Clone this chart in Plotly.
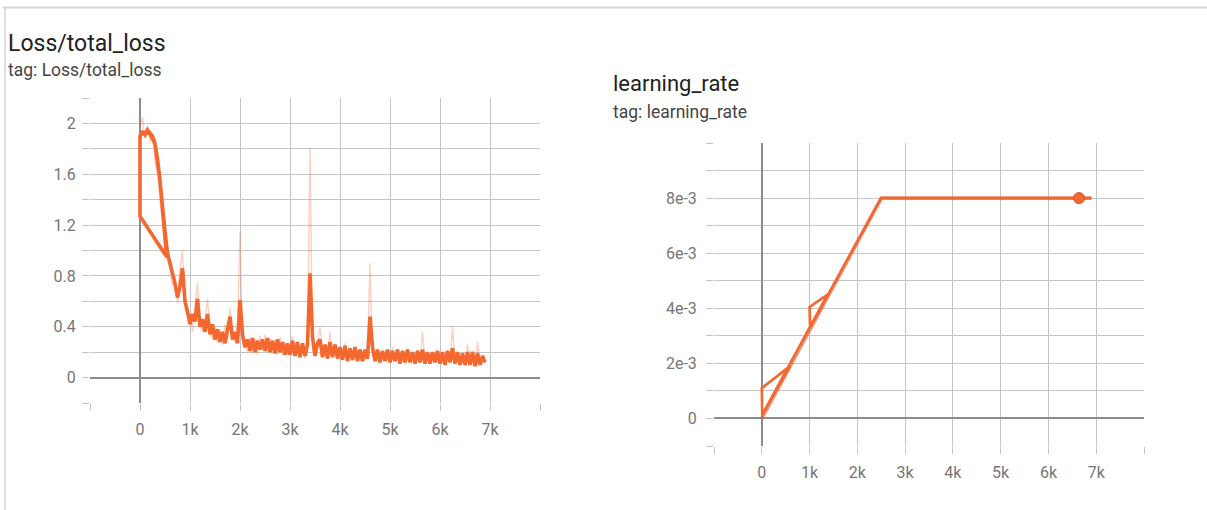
import plotly.graph_objects as go

# ---------------- data ----------------
loss_steps = list(range(0, 6901, 50))
loss_smoothed = [
    1.90, 1.93, 1.91, 1.95, 1.92, 1.90, 1.84, 1.72, 1.55, 1.32,
    1.15, 0.98, 0.90, 0.80, 0.74, 0.63, 0.72, 0.86, 0.60, 0.52,
    0.42, 0.50, 0.44, 0.62, 0.40, 0.46, 0.36, 0.50, 0.34, 0.42,
    0.30, 0.38, 0.28, 0.36, 0.27, 0.38, 0.48, 0.30, 0.36, 0.27,
    0.61, 0.34, 0.24, 0.30, 0.21, 0.31, 0.20, 0.29, 0.22, 0.30,
    0.21, 0.31, 0.20, 0.29, 0.19, 0.30, 0.20, 0.28, 0.18, 0.27,
    0.18, 0.29, 0.17, 0.28, 0.16, 0.27, 0.17, 0.26, 0.82, 0.32,
    0.17, 0.27, 0.30, 0.16, 0.26, 0.15, 0.28, 0.16, 0.26, 0.15,
    0.24, 0.14, 0.25, 0.13, 0.23, 0.14, 0.24, 0.13, 0.22, 0.13,
    0.22, 0.15, 0.48, 0.24, 0.13, 0.22, 0.12, 0.21, 0.13, 0.22,
    0.12, 0.21, 0.13, 0.22, 0.11, 0.21, 0.12, 0.22, 0.12, 0.20,
    0.11, 0.21, 0.12, 0.22, 0.11, 0.20, 0.11, 0.20, 0.12, 0.21,
    0.11, 0.20, 0.10, 0.21, 0.12, 0.23, 0.11, 0.20, 0.10, 0.19,
    0.10, 0.20, 0.10, 0.20, 0.09, 0.19, 0.10, 0.17, 0.12,
]
loss_raw = [
    1.95, 2.05, 1.88, 1.98, 1.85, 1.92, 1.70, 1.60, 1.40, 1.20,
    1.05, 0.92, 0.85, 0.72, 0.80, 0.58, 0.85, 1.00, 0.55, 0.48,
    0.50, 0.36, 0.58, 0.75, 0.40, 0.36, 0.45, 0.62, 0.35, 0.30,
    0.40, 0.27, 0.38, 0.26, 0.42, 0.30, 0.55, 0.32, 0.28, 0.38,
    1.15, 0.28, 0.25, 0.20, 0.32, 0.19, 0.30, 0.18, 0.33, 0.21,
    0.34, 0.20, 0.31, 0.19, 0.30, 0.18, 0.32, 0.17, 0.28, 0.17,
    0.26, 0.33, 0.18, 0.28, 0.16, 0.27, 0.15, 0.25, 1.81, 0.22,
    0.17, 0.27, 0.40, 0.16, 0.25, 0.15, 0.36, 0.17, 0.27, 0.15,
    0.23, 0.14, 0.27, 0.15, 0.22, 0.13, 0.21, 0.14, 0.23, 0.13,
    0.20, 0.15, 0.90, 0.18, 0.14, 0.22, 0.12, 0.21, 0.13, 0.22,
    0.12, 0.24, 0.13, 0.22, 0.12, 0.20, 0.11, 0.23, 0.13, 0.20,
    0.11, 0.22, 0.12, 0.36, 0.12, 0.20, 0.11, 0.19, 0.12, 0.21,
    0.11, 0.19, 0.10, 0.20, 0.12, 0.40, 0.11, 0.20, 0.10, 0.19,
    0.09, 0.26, 0.10, 0.21, 0.10, 0.28, 0.10, 0.18, 0.11,
]
# first (interrupted) run segment, then restart point at step 0
loss_pre_steps = [0, 100, 200, 300, 400, 450, 500, 533, 0]
loss_pre_vals = [1.91, 1.93, 1.92, 1.84, 1.55, 1.33, 1.15, 0.95, 1.27]

lr_steps = [0, 590, 0, 10, 1000, 1380, 1000, 1010, 2500, 6900]
lr_smoothed = [0.10e-3, 1.90e-3, 1.10e-3, 0.13e-3, 3.30e-3, 4.50e-3, 4.05e-3, 3.30e-3, 8.0e-3, 8.0e-3]
lr_raw_steps = [0, 590, 0, 1380, 1000, 2500, 6900]
lr_raw = [0.0, 1.89e-3, 0.0, 4.40e-3, 3.20e-3, 8.0e-3, 8.0e-3]
lr_point_step = [6640]
lr_point_val = [8.0e-3]

x_tickvals = [0, 1000, 2000, 3000, 4000, 5000, 6000, 7000]
x_ticktext = ["0", "1k", "2k", "3k", "4k", "5k", "6k", "7k"]
loss_tickvals = [0, 0.4, 0.8, 1.2, 1.6, 2.0]
loss_ticktext = ["0", "0.4", "0.8", "1.2", "1.6", "2"]
lr_tickvals = [0, 2e-3, 4e-3, 6e-3, 8e-3]
lr_ticktext = ["0", "2e-3", "4e-3", "6e-3", "8e-3"]

# ---------------- styling ----------------
W, H = 1207, 510
ORANGE = "#f4682f"
DARK = "#cf5428"
GRID = "#c4c4c4"
ZERO = "#8c8c8c"
TICKFONT = dict(family="Roboto", size=16, color="#767676")

fig = go.Figure()

fig.add_trace(go.Scatter(x=loss_steps, y=loss_raw, mode="lines",
                         line=dict(color="rgba(245,120,80,0.35)", width=1.4),
                         xaxis="x", yaxis="y", hoverinfo="skip"))
fig.add_trace(go.Scatter(x=loss_pre_steps + loss_steps, y=loss_pre_vals + loss_smoothed,
                         mode="lines", line=dict(color=ORANGE, width=3.6),
                         xaxis="x", yaxis="y"))

fig.add_trace(go.Scatter(x=lr_raw_steps, y=lr_raw, mode="lines",
                         line=dict(color="rgba(200,80,40,0.55)", width=3.8),
                         xaxis="x2", yaxis="y2", hoverinfo="skip"))
fig.add_trace(go.Scatter(x=lr_steps, y=lr_smoothed, mode="lines",
                         line=dict(color=ORANGE, width=2.6),
                         xaxis="x2", yaxis="y2"))
fig.add_trace(go.Scatter(x=lr_point_step, y=lr_point_val, mode="markers",
                         marker=dict(color=ORANGE, size=11, line=dict(color=DARK, width=1)),
                         xaxis="x2", yaxis="y2"))


def xaxis(domain, anchor):
    return dict(domain=domain, anchor=anchor, range=[-1000, 8000],
                tickvals=x_tickvals, ticktext=x_ticktext, tickfont=TICKFONT,
                showgrid=True, gridcolor=GRID, gridwidth=1,
                ticks="outside", ticklen=7, tickcolor=GRID, ticklabelstandoff=5,
                minor=dict(tickvals=[-1000, 8000], showgrid=True, gridcolor=GRID,
                           ticks="outside", ticklen=7, tickcolor=GRID),
                zeroline=True, zerolinecolor=ZERO, zerolinewidth=2,
                showline=False, fixedrange=True)


def yaxis(domain, anchor, rng, tv, tt, minor_dtick, standoff):
    return dict(domain=domain, anchor=anchor, range=rng,
                tickvals=tv, ticktext=tt, tickfont=TICKFONT,
                showgrid=True, gridcolor=GRID, gridwidth=1,
                ticks="outside", ticklen=7, tickcolor=GRID, ticklabelstandoff=standoff,
                minor=dict(dtick=minor_dtick, tick0=0, showgrid=True, gridcolor=GRID,
                           ticks="outside", ticklen=7, tickcolor=GRID),
                zeroline=True, zerolinecolor=ZERO, zerolinewidth=2,
                showline=False, fixedrange=True)


fig.update_layout(
    width=W, height=H,
    margin=dict(l=0, r=0, t=0, b=0),
    paper_bgcolor="white", plot_bgcolor="white",
    showlegend=False,
    font=dict(family="Roboto"),
    xaxis=xaxis([90 / W, 540 / W], "y"),
    yaxis=yaxis([1 - 403 / H, 1 - 98 / H], "x", [-0.2, 2.2],
                loss_tickvals, loss_ticktext, 0.2, 3),
    xaxis2=xaxis([714 / W, 1144 / W], "y2"),
    yaxis2=yaxis([1 - 446 / H, 1 - 143 / H], "x2", [-1e-3, 10e-3],
                 lr_tickvals, lr_ticktext, 1e-3, 6),
)

# titles
def label(text, x, y, size, color):
    fig.add_annotation(text=text, x=x / W, y=1 - y / H, xref="paper", yref="paper",
                       xanchor="left", yanchor="middle", showarrow=False,
                       font=dict(family="Roboto", size=size, color=color))

label("Loss/total_loss", 6, 43, 23, "#222222")
label("tag: Loss/total_loss", 6, 70, 17.5, "#444444")
label("learning_rate", 611, 84, 22, "#222222")
label("tag: learning_rate", 611, 112, 17.5, "#444444")

# card frame
fig.add_shape(type="line", xref="paper", yref="paper", x0=3 / W, x1=1, y0=1 - 7.5 / H, y1=1 - 7.5 / H,
              line=dict(color="#d6d6d6", width=2))
fig.add_shape(type="line", xref="paper", yref="paper", x0=5 / W, x1=5 / W, y0=0, y1=1 - 7.5 / H,
              line=dict(color="#d6d6d6", width=1.5))

fig.write_html("out.html", config={"displayModeBar": False},
               post_script="document.body.style.margin='0px';")
